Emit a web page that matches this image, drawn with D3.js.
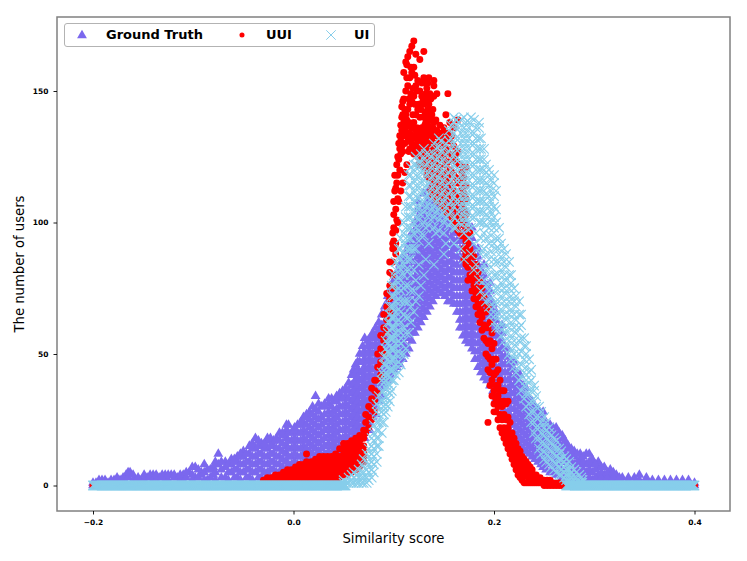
<!DOCTYPE html>
<html><head><meta charset="utf-8">
<script src="https://cdn.jsdelivr.net/npm/d3@7/dist/d3.min.js"></script>
<style>html,body{margin:0;padding:0;background:#fff}svg{display:block;font-family:"DejaVu Sans",sans-serif}</style>
</head><body><svg id="c" width="747" height="561"></svg>
<script>
const xTicks=[-0.2,0,0.2,0.4];
const xTickLabels=["\u22120.2","0.0","0.2","0.4"];
const yTicks=[0,50,100,150];
const yTickLabels=["0","50","100","150"];
const seriesNames=["Ground Truth","UUI","UI"];
const seriesColors=["#7b68ee","#ff0000","#87ceeb"];
// each row: x in thousandths, then the y values read at that x
const gtRows=[
[-200,0,1],[-197,1],[-191,1,2],[-185,1],[-179,1,2],[-173,2],[-167,1,4],[-163,5],[-158,2],[-152,1,2],[-146,3],[-140,2,4],[-134,3],[-128,2,4],[-122,4],[-116,3],[-110,2,4],[-104,5],[-98,3,7],[-92,4,5],[-86,2,6],[-80,4,7],[-75,8,12],[-68,3,7,9],[-62,5,8,10],[-56,3,6,9,11],[-50,5,8,11,13],[-44,3,6,9,12,15],[-38,5,8,11,14,18],[-32,3,6,9,12,15,16],[-26,5,8,11,14,17,18],[-20,3,6,9,12,15,17],[-14,5,8,11,14,17,20],[-7,3,6,9,12,15,18,21,23],[-2,5,8,11,14,17,20],
[4,5,8,11,14,17,20,23],[10,6,9,12,15,18,21,24,26],[16,7,10,13,16,19,22,25,28],[22,8,11,14,17,20,23,26,29,34],[28,8,11,14,17,20,23,26,30],[35,10,13,16,19,22,25,28,31,33],[40,10,13,16,19,22,25,28,32],[46,12,15,18,21,24,27,30,33,35],[52,13,16,19,22,25,28,31,34,37],[58,14,17,20,23,26,29,32,35,38,42],[62,16,19,22,25,28,31,34,37,40,43,46],[66,16,19,22,25,28,31,34,37,40,43,47,50],[71,18,21,24,27,30,33,36,39,42,45,48,51,56],[76,21,24,27,30,33,36,39,42,45,48,51,54,56],[82,27,30,33,36,39,42,45,48,51,54,57,60],[88,34,37,40,43,46,49,52,55,58,61,65],[94,40,43,46,49,52,55,58,61,64,67,70,72],[100,44,47,50,53,56,59,62,65,68,71,74,78],[106,46,49,52,55,58,61,64,67,70,73,76,79,82,84],[112,50,53,56,59,62,65,68,71,74,77,80,83,86,89],[118,55,58,61,64,67,70,73,76,79,82,85,88,91,94,96],[124,60,63,66,69,72,75,78,81,84,87,90,93,96,99,102,105,108],[130,64,67,70,73,76,79,82,85,88,91,94,97,100,103,106,111],[136,68,71,74,77,80,83,86,89,92,95,98,101,104,107,110,113],[142,72,75,78,81,84,87,90,93,96,99,102,105,108,110],[148,73,76,79,82,85,88,91,94,97,100,103,106,109,112,115],[154,70,73,76,79,82,85,88,91,94,97,100,103,106,109,113],[160,69,72,75,78,81,84,87,90,93,96,99,102,105,108,110],[166,60,63,66,69,72,75,78,81,84,87,90,93,96,99,102,105,108],[172,55,58,61,64,67,70,73,76,79,82,85,88,91,94,97,100,104],[178,52,55,58,61,64,67,70,73,76,79,82,85,88,91,94,98],[184,45,48,51,54,57,60,63,66,69,72,75,78,81,84,87,90],[190,41,44,47,50,53,56,59,62,65,68,71,74,77,80,84],[196,38,41,44,47,50,53,56,59,62,65,68,71,74,77],[202,33,36,39,42,45,48,51,54,57,60,63,66],[208,28,31,34,37,40,43,46,49,52,55,58,61],[214,22,25,28,31,34,37,40,43,46,49,52],[220,17,20,23,26,29,32,35,38,41,44,47],[226,15,18,21,24,27,30,33,36,39,42],[232,13,16,19,22,25,28,31,34,37],[238,11,14,17,20,23,26,29,32],[244,9,12,15,18,21,24,27,29],[249,7,10,13,16,19,22,25,28],[256,5,8,11,14,17,20,23],[262,4,7,10,13,16,19,22],[268,3,6,9,12,15,18,19],[274,2,5,8,11,14,15],[280,2,5,8,11,13],[286,2,5,8,10,12],[292,2,5,8,12],[298,2,5,8,10],[304,2,4,7,9],[310,2,4,7],[316,2,4,6],[322,2,4],[328,1,3],[334,2,3],[340,1,3],[345,2,4],[352,2,3],[358,1,2],[364,2],[370,1,2],[376,2],[382,1,2],[388,2],[394,1,2],[400,0,1]
];
const gtRowsB=[
[-194,1,2],[-188,2],[-182,2],[-176,1,3],[-170,2,3],[-165,3,5],[-160,2,4],[-155,3],[-149,2,4],[-143,3,4],[-137,2,4],[-131,3,4],[-125,2,4],[-119,3,4],[-113,2,4],[-107,3,5],[-101,2,4,7],[-95,3,6],[-89,2,5,8],[-83,3,6],[-78,2,5,8,9],[-72,3,6,9],[-65,2,5,8],[-59,3,6,9,10],[-53,2,5,8,11,12],[-47,3,6,9,12],[-41,2,5,8,11,14,16],[-35,3,6,9,12,15,17],[-29,2,5,8,11,14,16],[-23,3,6,9,12,15,18],[-17,2,5,8,11,14,18],[-11,4,7,10,13,16,19,20],[-5,2,5,8,11,14,17,20,23],[1,3,6,9,12,15,18,21,22],
[7,5,8,11,14,17,20,23,24],[13,5,8,11,14,17,20,23,26,27],[19,6,9,12,15,18,21,24,27,30],[25,7,10,13,16,19,22,25,28,31],[31,9,12,15,18,21,24,27,30,31],[38,9,12,15,18,21,24,27,30,33],[43,11,14,17,20,23,26,29,32,34],[49,12,15,18,21,24,27,30,33,36],[55,15,18,21,24,27,30,33,36,39],[60,15,18,21,24,27,30,33,36,39,42,44],[64,17,20,23,26,29,32,35,38,41,44,47],[69,20,23,26,29,32,35,38,41,44,47,50,53],[74,23,26,29,32,35,38,41,44,47,50,53,55],[79,26,29,32,35,38,41,44,47,50,53,56,58],[85,32,35,38,41,44,47,50,53,56,59,62],[91,38,41,44,47,50,53,56,59,62,65,68],[97,42,45,48,51,54,57,60,63,66,69,72,75],[103,45,48,51,54,57,60,63,66,69,72,75,78,81],[109,48,51,54,57,60,63,66,69,72,75,78,81,84,87],[115,52,56,59,62,65,68,71,74,77,80,83,86,89,92],[121,58,61,64,67,70,73,76,79,82,85,88,91,94,97,100],[127,62,65,68,71,74,77,80,83,86,89,92,95,98,101,104],[133,66,69,72,75,78,81,84,87,90,93,96,99,102,105,108],[139,70,73,76,79,82,85,88,91,94,97,100,103,106,109],[145,74,77,80,83,86,89,92,95,98,101,104,107,110],[151,72,75,78,81,84,87,90,93,96,99,102,105,108,110],[157,70,73,76,79,82,85,88,91,94,97,100,103,106],[163,66,69,72,75,78,81,84,87,90,93,96,99,102,105],[169,57,60,63,66,69,72,75,78,81,84,87,90,93,96,99],[175,54,57,60,63,66,69,72,75,78,81,84,87,90,93,96],[181,48,51,54,57,60,63,66,69,72,75,78,81,84,87,90],[187,43,46,49,52,55,58,61,64,67,70,73,76,79,82],[193,40,43,46,49,52,55,58,61,64,67,70,73,76],[199,36,39,42,45,48,51,54,57,60,63,66,69],[205,30,33,36,39,42,45,48,51,54,57,60],[211,25,28,31,34,37,40,43,46,49,52],[217,20,23,26,29,32,35,38,41,44,47],[223,16,19,22,25,28,31,34,37,40,43],[229,14,17,20,23,26,29,32,35,38],[235,12,15,18,21,24,27,30,33],[241,10,13,16,19,22,25,28,30],[247,8,11,14,17,20,23,26,27],[252,6,9,12,15,18,21,24],[259,5,8,11,14,17,20,22],[265,4,7,10,13,16,19,20],[271,3,6,9,12,15,17],[277,3,6,9,12,14],[283,3,6,9,12],[289,3,6,9,11],[295,3,6,9,12],[301,3,6,8],[307,3,5,7],[313,3,5],[319,3,5],[325,2,3]
];
const uuiRows=[
[-200,0],[-34,0],[-30,1,2],[-26,1,3],[-22,1,3],[-18,1,3,4],[-14,1,3,4],[-10,1,3,5],[-6,1,3,5,6],[-2,1,3,5,6],[2,1,3,5,7],[6,1,3,5,7,8],[10,1,3,5,7,8],[13,9,12],[14,1,3,5,7],[18,1,3,5,7,9],[22,1,3,5,7,9,10],[26,1,3,5,7,9,11],[30,1,3,5,7,9,11],[34,1,3,5,7,9,11],[38,1,3,5,7,9,11],[42,2,4,6,8,10,12],[46,3,5,7,9,11,14],[50,4,6,8,10,12,14,16],[54,4,6,8,10,12,14,16],[58,5,7,9,11,13,15,17],[62,6,8,10,12,14,16,18],[66,7,9,11,13,15,17,19],[70,9,11,13,15,18,21],
[72,20,24,27],[75,22,26,30],[78,25,29,33,37],[81,28,32,36,40],[84,35,40,45,50],[87,42,47,52,57],[90,50,55,60,65],[93,58,63,68,73],[96,66,71,76,81,85],[99,75,80,85,90],[100,90,93,98],[102,88,92,97,105,113],[104,100,109,118,125],[106,120,128,133],[108,129,135,140,144],[110,133,138,147,157],[112,136,141,150,161],[114,131,137,143,152,163],[116,128,134,145,155,165],[118,130,136,146,157,167],[120,126,132,138,148,159,169],[122,135,141,152,164],[124,125,131,143,154],[126,128,134,140,150,162],[128,130,136,148,153],[130,122,128,134,140,145,155,165],[132,126,132,138,149],[134,120,126,131,137,143,147,153],[136,125,130,136,141,149],[138,113,120,126,131,135,141],[140,115,122,128,133,138,148,152,154],[143,108,113,119,125,130,135,149],[148,106,112,118,124,129,134],[152,104,110,116,122,127,132,141],[154,149],[156,103,109,115,120,126,131,138],[160,100,106,112,118,124,129,136],[164,97,103,108,115,122,127,139],[168,95,101,107,113,119],[170,86,90,95],[172,93,98,103,109,114,121],[174,78,83,87,92],[178,74,78,83,88],[182,68,73,79,84],[186,62,67,72,78],[190,56,61,66,72],[194,44,49,54,60,68,24],[198,34,40,46,52,58],[200,28],[202,28,33,38,43,48],[206,22,27,32,36,40],[210,18,22,27,32,36],[214,14,18,22,26,32],[218,10,13,16,20],[222,6,9,12,16],[226,3,6,9,13],[230,1,4,7,10],[234,1,3,5,8],[238,1,3,6],[242,1,2,4],[246,1,3],[250,0,2],[253,0,1,2],[256,0,2],[259,0,1],[262,0,1],[265,0,1],[268,0],[400,0]
];
const uuiRowsB=[
[99,92,96],[100,103,108],[101,112,118],[103,101,115,122],[105,108,124,130],[107,112,126,131,137],[109,115,127,141,146],[111,119,130,143],[113,122,134,139,155,160],[115,127,132,138,147],[117,131,137,149,159],[119,128,141,151],[121,127,133,145,156],[123,129,136,150],[125,122,127,133,145],[127,124,131,143],[129,126,132,146],[131,121,125,131,137,142,148,153],[133,118,123,129,135,141,146,151],[135,117,122,128,134,139,145,155],[137,112,118,124,129,133,139,147],[139,110,117,123,129,136,143],[142,111,116,122,127,133,139],[146,109,115,121,126,132,137],[150,107,113,119,125,130,136],[154,105,111,117,123,128,134],[158,102,108,114,119,125,133],[162,99,105,110,117,123,126],[166,96,102,110,116,122],[170,99,105,111,117],[172,88,84],[176,80,85,90,96],[180,71,76,81,87],[184,65,70,75,81],[188,59,64,69,75],[192,50,55,60,66],[196,38,43,48,55,62],[200,31,36,42,48,54],[204,25,30,34,38,44],[208,20,25,30,36],[212,16,20,25,31],[216,12,16,19,24],[220,8,11,14,18],[224,4,8,11,14],[228,2,5,8,11],[232,1,4,6,9],[236,1,3,5,7],[240,1,2,4],[244,1,2]
];
const uiBaseX=[-200,-198,-196,-194,-192,-190,-188,-186,-184,-182,-180,-178,-176,-174,-172,-170,-168,-166,-164,-162,-160,-158,-156,-154,-152,-150,-148,-146,-144,-142,-140,-138,-136,-134,-132,-130,-128,-126,-124,-122,-120,-118,-116,-114,-112,-110,-108,-106,-104,-102,-100,-98,-96,-94,-92,-90,-88,-86,-84,-82,-80,-78,-76,-74,-72,-70,-68,-66,-64,-62,-60,-58,-56,-54,-52,-50,-48,-46,-44,-42,-40,-38,-36,-34,-32,-30,-28,-26,-24,-22,-20,-18,-16,-14,-12,-10,-8,-6,-4,-2,0,2,4,6,8,10,12,14,16,18,20,22,24,26,28,30,32,34,36,38,40,42,44,46,48,50,52,272,274,276,278,280,282,284,286,288,290,292,294,296,298,300,302,304,306,308,310,312,314,316,318,320,322,324,326,328,330,332,334,336,338,340,342,344,346,348,350,352,354,356,358,360,362,364,366,368,370,372,374,376,378,380,382,384,386,388,390,392,394,396,398,400];
const uiBaseXOdd=[-199,-197,-195,-193,-191,-189,-187,-185,-183,-181,-179,-177,-175,-173,-171,-169,-167,-165,-163,-161,-159,-157,-155,-153,-151,-149,-147,-145,-143,-141,-139,-137,-135,-133,-131,-129,-127,-125,-123,-121,-119,-117,-115,-113,-111,-109,-107,-105,-103,-101,-99,-97,-95,-93,-91,-89,-87,-85,-83,-81,-79,-77,-75,-73,-71,-69,-67,-65,-63,-61,-59,-57,-55,-53,-51,-49,-47,-45,-43,-41,-39,-37,-35,-33,-31,-29,-27,-25,-23,-21,-19,-17,-15,-13,-11,-9,-7,-5,-3,-1,1,3,5,7,9,11,13,15,17,19,21,23,25,27,29,31,33,35,37,39,41,43,45,47,49,51,273,275,277,279,281,283,285,287,289,291,293,295,297,299,301,303,305,307,309,311,313,315,317,319,321,323,325,327,329,331,333,335,337,339,341,343,345,347,349,351,353,355,357,359,361,363,365,367,369,371,373,375,377,379,381,383,385,387,389,391,393,395,397,399];
const uiRows=[
[50,1,2],[55,1,3],[60,1,3,5],[65,1,3,6],[70,1,3,5,7,10],[75,2,5,8,11,14],[80,5,8,11,14,17,20,23],[85,15,18,21,24,27,30,34],[88,20,24,28,32,36,40,43],[92,28,31,34,37,40,43,46,49,52,55],[96,32,35,38,41,44,47,50,53,56,59,62,65,68],[100,40,44,48,52,56,60,64,68,72,76,80],[105,43,47,51,55,59,63,67,71,75,79,83,87,90],[110,50,55,60,65,70,75,80,84,88,92,96,100],[115,58,64,70,76,82,86,90,94,98,102,106,110,114,118],[120,66,74,82,90,96,100,104,108,112,116,120,122],[125,72,84,93,97,101,105,109,113,117,121,123],[130,80,95,100,104,108,112,116,120,124,128],[135,92,99,103,107,111,115,119,123,126],[140,84,98,102,106,110,114,118,122,126,130],[145,97,101,105,109,113,117,121,125,129,132],[150,88,96,100,104,108,112,116,120,124,128],[155,99,103,107,111,115,119,123,127,131,135],[160,92,98,102,106,110,114,118,122,126,130,134,138,140],[165,100,104,108,112,116,120,124,128,132,136,138],[170,86,96,100,104,108,112,116,120,124,128,132,136,140],[175,94,100,104,108,112,116,120,124,128,132,136,138],[180,82,92,102,106,110,114,118,122,126,130,134,139],[185,78,90,100,104,108,112,116,120,124,128,132,136,138],[190,72,78,84,90,96,100,104,108,112,116,120,124,128],[195,68,74,80,86,92,98,102,106,110,114,118,120],[200,62,68,74,80,86,92,98,102,106,110,115,118],[205,60,65,70,75,80,85,90,94,98],[210,55,60,65,70,75,80,85,90],[215,50,55,60,65,70,75,80,85],[220,45,50,55,60,65,70,75],[225,40,45,50,55,60,65,70],[230,33,38,43,48,53,56],[235,27,31,35,39,43,48],[240,20,24,28,32,36,38],[245,14,18,22,26,30],[250,10,13,16,19,22,26],[255,8,11,14,17,20,22],[260,6,9,12,15,18],[265,4,7,10,12,14],[270,3,5,7,9,11],[275,2,4,6,9],[280,1,3,6],[285,1,4],[288,1,2]
];
const uiRowsB=[
[53,1],[58,1,2,4],[63,1,2,4],[68,1,3,5,8],[73,1,3,6,9,12],[78,3,6,9,12,15,18],[83,9,12,15,18,21,24,28,31],[90,24,27,30,33,36,39,42,46,49],[94,30,33,36,39,42,45,48,51,54,58,62],[98,36,40,44,48,52,56,60,64,68,72,76],[102,42,46,50,54,58,62,66,70,74,78,82,85],[107,46,50,54,58,62,66,70,74,78,82,86,90,94],[112,52,58,64,70,76,82,86,90,94,98,102,106],[117,62,68,74,80,86,90,94,98,102,106,110,114,118,121],[122,70,78,90,98,102,106,110,114,118,122,125],[127,76,95,103,107,111,115,119,123,126],[132,86,98,106,110,114,118,122,126],[137,101,105,109,113,117,121,125],[142,96,104,108,112,116,120,124,128],[147,103,107,111,115,119,123,127,131],[152,92,102,106,110,114,118,122,126,130],[157,100,104,108,112,116,120,124,128,132,137],[162,98,108,112,116,120,124,128,132,136,139],[167,90,102,106,110,114,118,122,126,130,134,139],[172,98,102,106,110,114,118,122,126,130,134,138],[177,88,98,102,106,110,114,118,122,126,130,134,140],[182,84,96,104,108,112,116,120,124,128,132,136],[187,74,82,88,94,100,104,108,112,116,120,124,128,132],[192,70,76,82,88,94,99,103,107,111,115,119,122],[197,65,71,77,83,89,95,100,104,108,112,116],[202,60,65,70,75,80,85,90,94,100,105,112],[207,57,62,67,72,77,82,87,92],[212,53,58,63,68,73,78,83,88],[217,48,52,57,62,67,72,77,80],[222,43,48,53,58,63,68,72],[227,36,41,46,51,56,61,65],[232,30,35,40,45,50,53],[237,24,28,32,36,40,44],[242,18,22,26,30,34],[247,12,16,20,24,28],[252,9,12,15,18,21,24],[257,7,10,13,16,19],[262,5,8,11,14,17],[267,4,6,8,10,13],[272,2,4,6,8,10],[277,1,3,5,7],[282,1,3,5],[287,1,3]
];
const margin={left:57,right:730,top:17,bottom:511};
const x=d3.scaleLinear().domain([-0.2,0.4]).range([93,694.5]);
const y=d3.scaleLinear().domain([0,150]).range([485.5,91]);
const svg=d3.select("#c");
const flat=rows=>rows.flatMap(r=>r.slice(1).map(v=>[r[0]/1000,v]));
const tri=d3.symbol(d3.symbolTriangle,42)();
const dot=d3.symbol(d3.symbolCircle,38)();
const cross=d3.symbol(d3.symbolTimes,60)();
const place=d=>`translate(${x(d[0])},${y(d[1])})`;
svg.append("g").selectAll("path").data(flat(gtRows.concat(gtRowsB))).join("path").attr("d",tri).attr("fill",seriesColors[0]).attr("transform",place);
svg.append("g").selectAll("path").data(flat(uuiRows.concat(uuiRowsB))).join("path").attr("d",dot).attr("fill",seriesColors[1]).attr("transform",place);
const uiPts=flat(uiRows.concat(uiRowsB)).concat(uiBaseX.concat(uiBaseXOdd).map(v=>[v/1000,0]));
svg.append("g").selectAll("path").data(uiPts).join("path").attr("d",cross).attr("fill","none").attr("stroke",seriesColors[2]).attr("stroke-width",1.15).attr("transform",place);
// frame and axes
svg.append("rect").attr("x",margin.left).attr("y",margin.top).attr("width",margin.right-margin.left).attr("height",margin.bottom-margin.top).attr("fill","none").attr("stroke","#808080").attr("stroke-width",1.5);
const xAxis=d3.axisBottom(x).tickValues(xTicks).tickFormat((d,i)=>xTickLabels[i]).tickSize(3.5).tickPadding(5);
const yAxis=d3.axisLeft(y).tickValues(yTicks).tickFormat((d,i)=>yTickLabels[i]).tickSize(3.5).tickPadding(5);
const gx=svg.append("g").attr("transform",`translate(0,${margin.bottom})`).call(xAxis);
const gy=svg.append("g").attr("transform",`translate(${margin.left},0)`).call(yAxis);
[gx,gy].forEach(g=>{g.select(".domain").remove();g.selectAll("text").attr("font-size",7.5).attr("font-weight","bold").attr("font-family","DejaVu Sans").attr("fill","#000");g.selectAll("line").attr("stroke","#000").attr("stroke-width",0.9);});
svg.append("text").attr("x",393.5).attr("y",543).attr("text-anchor","middle").attr("font-size",13.2).text("Similarity score");
svg.append("text").attr("transform","translate(24,264) rotate(-90)").attr("text-anchor","middle").attr("font-size",13.2).text("The number of users");
// legend
const lg=svg.append("g");
lg.append("rect").attr("x",64.5).attr("y",23.5).attr("width",310).attr("height",23).attr("rx",2.5).attr("fill","#fff").attr("fill-opacity",0.9).attr("stroke","#b3b3b3").attr("stroke-width",1);
lg.append("path").attr("d",tri).attr("fill",seriesColors[0]).attr("transform","translate(82,35.5)");
lg.append("path").attr("d",d3.symbol(d3.symbolCircle,20)()).attr("fill",seriesColors[1]).attr("transform","translate(242,35)");
lg.append("path").attr("d",cross).attr("fill","none").attr("stroke",seriesColors[2]).attr("stroke-width",1).attr("transform","translate(331,35)");
[[106],[266],[354]].forEach((p,i)=>lg.append("text").attr("x",p[0]).attr("y",39).attr("font-size",13).attr("font-weight","bold").attr("fill","#000").text(seriesNames[i]));
</script></body></html>
